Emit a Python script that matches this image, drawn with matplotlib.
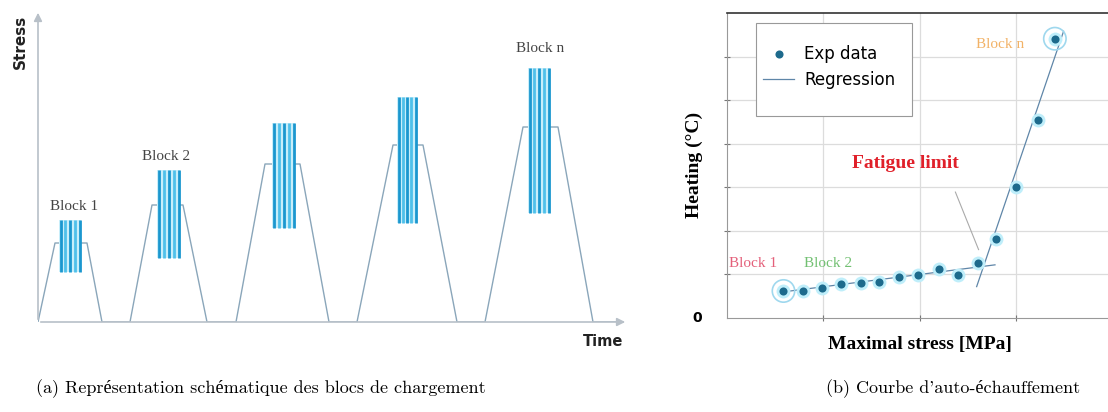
import numpy as np
import matplotlib
matplotlib.use("Agg")
import matplotlib.pyplot as plt
from matplotlib.patches import Rectangle

# (a) loading path: time / stress vertices of the trapezoid blocks
path_t = [0, 17, 49, 64, 92, 114, 145, 169, 198, 227, 262, 291,
          319, 355, 385, 419, 447, 485, 520, 555, 584]
path_s = [0, 79, 79, 0, 0, 117, 117, 0, 0, 158, 158, 0,
          0, 177, 177, 0, 0, 195, 195, 0, 0]

# cyclic part of each block: start/end time, min/max stress
spike_t0 = [21, 119, 234, 359, 490]
spike_t1 = [43, 142, 257, 379, 512]
spike_lo = [50, 64, 94, 99, 109]
spike_hi = [102, 152, 199, 225, 254]
n_lines = 5

block_names = ["Block 1", "Block 2", "Block n"]
block_lab_t = [36, 128, 502]
block_lab_s = [115, 165, 274]

# (b) self-heating curve
stress = [0.59, 0.79, 0.99, 1.19, 1.39, 1.58, 1.79, 1.98,
          2.20, 2.40, 2.60, 2.79, 3.00, 3.23, 3.40]
heating = [0.62, 0.62, 0.68, 0.78, 0.80, 0.82, 0.95, 0.99,
           1.12, 0.99, 1.26, 1.82, 3.00, 4.54, 6.41]
reg_low_x = [0.59, 2.78]
reg_low_y = [0.60, 1.22]
reg_high_x = [2.59, 3.49]
reg_high_y = [0.72, 6.58]

fig = plt.figure(figsize=(11.08, 4.12), dpi=100)
W, H = 1108.0, 412.0

# ---------- panel (a)
ax1 = fig.add_axes([38 / W, (H - 322) / H, 600 / W, 310 / H])
ax1.set_xlim(0, 600)
ax1.set_ylim(0, 310)
ax1.axis("off")

ax1.plot(path_t, path_s, color="#8aa6ba", lw=1.0, zorder=2)
for t0, t1, lo, hi in zip(spike_t0, spike_t1, spike_lo, spike_hi):
    ax1.fill_between([t0, t1], lo, hi, color="#c8eefa", lw=0, zorder=2.5)
    xs = np.linspace(t0 + 1.5, t1 - 1.5, n_lines)
    cols = ["#1b97cf" if k % 2 == 0 else "#4fc0ea" for k in range(n_lines)]
    ax1.vlines(xs, lo, hi, colors=cols, lw=2.0, zorder=3)

for name, t, s in zip(block_names, block_lab_t, block_lab_s):
    ax1.text(t, s, name, ha="center", va="center", fontsize=11,
             family="Liberation Serif", color="#444444")

arrow = dict(arrowstyle="-|>", color="#b8c0c8", lw=1.2, mutation_scale=12)
ax1.annotate("", xy=(0, 312), xytext=(0, 0), arrowprops=arrow, annotation_clip=False)
ax1.annotate("", xy=(590, 0), xytext=(0, 0), arrowprops=arrow, annotation_clip=False)
fig.text(20 / W, 1 - 42 / H, "Stress", rotation=90, ha="center", va="center",
         fontsize=11, fontweight="bold", color="#222222")
fig.text(603 / W, 1 - 341 / H, "Time", ha="center", va="center",
         fontsize=10.5, fontweight="bold", color="#222222")

# ---------- panel (b)
ax2 = fig.add_axes([726.5 / W, (H - 318) / H, (W - 726.5) / W, 305 / H])
ax2.set_xlim(0, 3.95)
ax2.set_ylim(0, 7.0)
ax2.set_xticks([1, 2, 3])
ax2.set_yticks([1, 2, 3, 4, 5, 6])
ax2.grid(True, color="#dcdcdc", lw=0.9)
ax2.set_axisbelow(True)
ax2.tick_params(direction="inout", length=5, color="#777777",
                labelbottom=False, labelleft=False)
for side in ["left", "bottom"]:
    ax2.spines[side].set_color("#999999")
ax2.spines["top"].set_color("#333333")
ax2.spines["top"].set_linewidth(1.2)
ax2.spines["right"].set_visible(False)

ax2.plot(reg_low_x, reg_low_y, color="#5f86a8", lw=0.9, zorder=3)
ax2.plot(reg_high_x, reg_high_y, color="#5f86a8", lw=0.9, zorder=3)
ax2.scatter(stress, heating, s=100, color="#bfeefa", zorder=4, linewidths=0)
ax2.scatter(stress, heating, s=34, color="#1d6a8c", zorder=5, linewidths=0,
            label="Exp data")
ax2.plot([], [], color="#5f86a8", lw=0.9, label="Regression")
for i in [0, -1]:
    ax2.scatter(stress[i], heating[i], s=260, facecolor="none",
                edgecolor="#9fd8ee", lw=1.2, zorder=4)

ax2.text(0.27, 1.26, "Block 1", ha="center", va="center", fontsize=11,
         family="Liberation Serif", color="#e4607a")
ax2.text(1.05, 1.26, "Block 2", ha="center", va="center", fontsize=11,
         family="Liberation Serif", color="#72c072")
ax2.text(2.83, 6.28, "Block n", ha="center", va="center", fontsize=11,
         family="Liberation Serif", color="#f2b266")
ax2.text(1.85, 3.54, "Fatigue limit", ha="center", va="center", fontsize=14,
         family="Liberation Serif", fontweight="bold", color="#e0202a")
ax2.plot([2.37, 2.61], [2.89, 1.57], color="#aaaaaa", lw=0.8)

# legend box drawn by hand: tall padding, narrow sides
ax2.add_patch(Rectangle((756 / W, 1 - 116 / H), 156 / W, 93 / H,
                        transform=fig.transFigure, facecolor="white",
                        edgecolor="#999999", lw=0.8, zorder=6, clip_on=False))
leg = ax2.legend(loc="center left", bbox_to_anchor=(756 / W, 1 - 67 / H),
                 bbox_transform=fig.transFigure, fontsize=12, frameon=False,
                 handlelength=1.9, handletextpad=0.6, borderpad=0.4,
                 labelspacing=0.5, borderaxespad=0)
leg.set_zorder(7)

fig.text(694 / W, 1 - 165 / H, "Heating (°C)", rotation=90, ha="center",
         va="center", fontsize=14, fontweight="bold", family="Liberation Serif")
fig.text(920 / W, 1 - 345 / H, "Maximal stress [MPa]", ha="center", va="center",
         fontsize=14, fontweight="bold", family="Liberation Serif")
fig.text(697 / W, 1 - 318 / H, "0", ha="center", va="center",
         fontsize=10, fontweight="bold")

# captions
cap = dict(fontsize=13, family=["cmr10", "Liberation Serif"], va="center")
fig.text(261 / W, 1 - 389 / H, "(a) Représentation schématique des blocs de chargement",
         ha="center", **cap)
fig.text(953 / W, 1 - 389 / H, "(b) Courbe d'auto-échauffement", ha="center", **cap)

fig.savefig("out.png", dpi=100)
